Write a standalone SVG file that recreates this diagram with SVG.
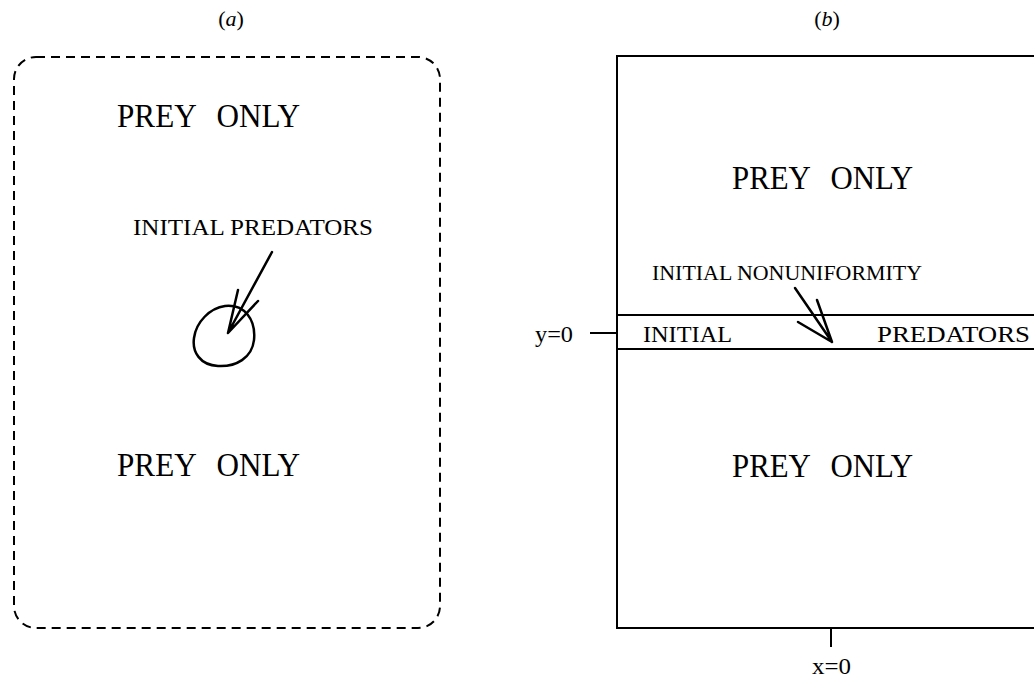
<svg xmlns="http://www.w3.org/2000/svg" width="1034" height="677" viewBox="0 0 1034 677">
<style>
text{font-family:"Liberation Serif","Times New Roman",serif;fill:#000}
.big{font-size:33px;word-spacing:14px}
.mid{font-size:23px}
.sm{font-size:21px}
.cap{font-size:22px}
.it{font-style:italic}
.ln{fill:none;stroke:#000;stroke-width:2}
.pen{fill:none;stroke:#000;stroke-width:2.5;stroke-linecap:round;stroke-linejoin:round}
</style>
<rect width="1034" height="677" fill="#fff"/>
<g id="panel-a">
<text class="cap" x="231" y="26" text-anchor="middle">(<tspan class="it">a</tspan>)</text>
<rect x="14" y="57" width="426" height="571" rx="22" ry="22" class="ln" stroke-dasharray="9,6"/>
<text class="big" x="117" y="127" textLength="183" lengthAdjust="spacingAndGlyphs">PREY ONLY</text>
<text class="big" x="117" y="476" textLength="183" lengthAdjust="spacingAndGlyphs">PREY ONLY</text>
<text class="mid" x="133" y="235" textLength="240" lengthAdjust="spacingAndGlyphs">INITIAL PREDATORS</text>
<path class="pen" d="M 225,306 C 245,304 256,320 254,340 C 252,358 236,367 218,366 C 200,365 192,352 194,338 C 196,322 210,308 225,306 Z"/>
<path class="pen" d="M 272,252 L 228,333 M 238,290 L 228,333 L 258,301"/>
</g>
<g id="panel-b">
<text class="cap" x="827" y="26" text-anchor="middle">(<tspan class="it">b</tspan>)</text>
<path class="ln" d="M 1040,56 L 617,56 L 617,628 L 1040,628"/>
<line class="ln" x1="617" y1="315" x2="1040" y2="315"/>
<line class="ln" x1="617" y1="349" x2="1040" y2="349"/>
<text class="big" x="732" y="189" textLength="181" lengthAdjust="spacingAndGlyphs">PREY ONLY</text>
<text class="big" x="732" y="477" textLength="181" lengthAdjust="spacingAndGlyphs">PREY ONLY</text>
<text class="sm" x="652" y="280" textLength="270" lengthAdjust="spacingAndGlyphs">INITIAL NONUNIFORMITY</text>
<text class="mid" x="643" y="342" textLength="89" lengthAdjust="spacingAndGlyphs">INITIAL</text>
<text class="mid" x="877" y="342" textLength="153" lengthAdjust="spacingAndGlyphs">PREDATORS</text>
<path class="pen" d="M 795,288 L 832,342 M 817,300 L 832,342 L 798,322"/>
<line class="ln" x1="590" y1="333" x2="617" y2="333"/>
<text class="mid" x="535" y="342" textLength="38" lengthAdjust="spacingAndGlyphs">y=0</text>
<line class="ln" x1="831" y1="628" x2="831" y2="647"/>
<text class="mid" x="812" y="674" textLength="39" lengthAdjust="spacingAndGlyphs">x=0</text>
</g>
</svg>
